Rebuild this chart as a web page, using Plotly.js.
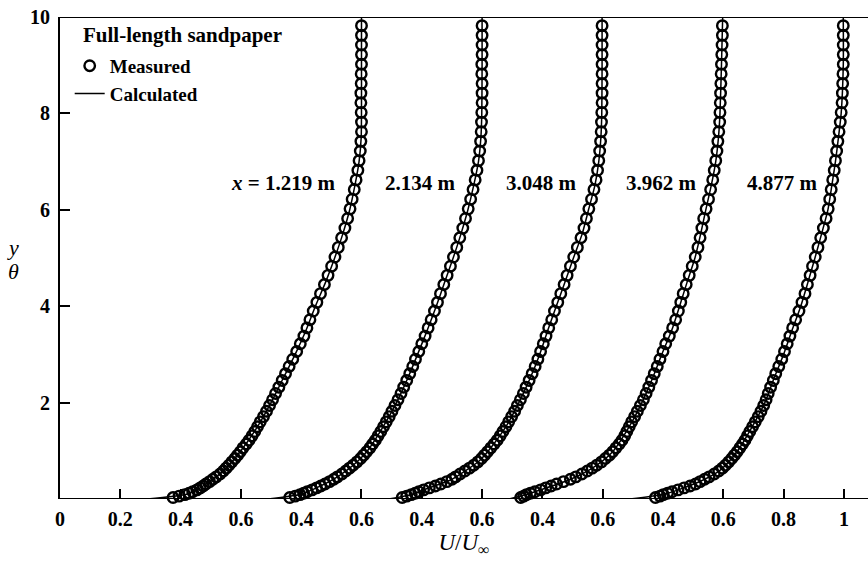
<!DOCTYPE html>
<html>
<head>
<meta charset="utf-8">
<script src="https://cdn.plot.ly/plotly-3.0.1.min.js"></script>
<style>html,body{margin:0;padding:0;background:#fff;}#chart{width:868px;height:561px;}</style>
</head>
<body>
<div id="chart"></div>
<script>
// Station labels and horizontal offset of each profile on the shared U/U∞ axis
const stations = ["<i>x</i> = 1.219 m", "2.134 m", "3.048 m", "3.962 m", "4.877 m"];
const offsets = [0, 0.4, 0.8, 1.2, 1.6];

// Measured y/θ positions (shared by all stations)
const yMeas = [0.03,0.06,0.09,0.12,0.15, 0.19,0.23,0.27,0.31, 0.36,0.41,0.46, 0.52,0.58,0.64,0.70,
  0.77,0.84,0.91,0.98, 1.06,1.14,1.22, 1.31,1.40, 1.50,1.60, 1.71,1.82, 1.94,2.06, 2.19,2.32,
  2.46,2.60, 2.75,2.90, 3.06,3.22,3.38, 3.55,3.72,3.90, 4.08,4.26, 4.45,4.64,4.83,
  5.02,5.22,5.42,5.62,5.82,
  6.02,6.22,6.42,6.62,6.82,7.02,7.22,7.42,7.62,7.82,
  8.02,8.22,8.42,8.62,8.82,9.02,9.22,9.42,9.62,9.82];

// Measured U/U∞ at each station
const meas1 = [0.375,0.395,0.414,0.428,0.44, 0.454,0.465,0.475,0.484, 0.496,0.507,0.518, 0.531,0.542,0.551,0.560,
  0.570,0.580,0.589,0.598, 0.607,0.618,0.627, 0.637,0.646, 0.655,0.664, 0.675,0.685, 0.695,0.705, 0.715,0.726,
  0.737,0.748, 0.760,0.772, 0.785,0.797,0.809, 0.819,0.829,0.840, 0.852,0.864, 0.877,0.889,0.901,
  0.912,0.923,0.934,0.945,0.954,
  0.962,0.969,0.976,0.982,0.988,0.992,0.996,0.998,1.0,1.0,
  0.999,0.998,0.998,0.999,0.999,1.0,1.0,1.0,1.0,1.0];
const meas2 = [0.362,0.38,0.396,0.408,0.42, 0.436,0.451,0.465,0.479, 0.494,0.508,0.52, 0.535,0.548,0.56,0.572,
  0.585,0.597,0.607,0.617, 0.628,0.637,0.646, 0.655,0.664, 0.673,0.682, 0.692,0.701, 0.711,0.721, 0.731,0.740,
  0.750,0.760, 0.770,0.779, 0.790,0.800,0.811, 0.821,0.831,0.842, 0.852,0.862, 0.873,0.884,0.895,
  0.905,0.916,0.926,0.936,0.945,
  0.954,0.962,0.970,0.977,0.983,0.988,0.992,0.995,0.997,0.998,
  0.999,1.0,1.0,1.0,0.999,0.999,1.0,1.0,1.0,1.0];
const meas3 = [0.335,0.35,0.365,0.378,0.39, 0.406,0.425,0.445,0.463, 0.483,0.5,0.512, 0.527,0.543,0.558,0.572,
  0.586,0.598,0.608,0.618, 0.629,0.64,0.65, 0.66,0.669, 0.679,0.688, 0.698,0.708, 0.717,0.727, 0.737,0.746,
  0.756,0.766, 0.776,0.785, 0.794,0.803,0.812, 0.821,0.831,0.84, 0.851,0.861, 0.872,0.882,0.893,
  0.904,0.916,0.928,0.938,0.946,
  0.954,0.963,0.971,0.978,0.983,0.987,0.99,0.993,0.995,0.996,
  0.997,0.998,0.998,0.998,0.998,0.998,0.998,0.998,0.998,0.998];
const meas4 = [0.328,0.338,0.347,0.36,0.375, 0.394,0.411,0.429,0.447, 0.47,0.493,0.511, 0.531,0.549,0.565,0.58,
  0.596,0.609,0.622,0.633, 0.644,0.655,0.664, 0.673,0.68, 0.688,0.696, 0.706,0.715, 0.725,0.735, 0.744,0.753,
  0.762,0.771, 0.781,0.79, 0.8,0.809,0.821, 0.832,0.842,0.851, 0.859,0.867, 0.877,0.887,0.897,
  0.907,0.916,0.923,0.929,0.935,
  0.943,0.951,0.958,0.965,0.97,0.975,0.979,0.982,0.985,0.988,
  0.989,0.99,0.991,0.992,0.993,0.994,0.995,0.996,0.997,0.997];
const meas5 = [0.375,0.39,0.401,0.415,0.43, 0.45,0.47,0.49,0.508, 0.523,0.538,0.553, 0.57,0.585,0.597,0.607,
  0.618,0.628,0.637,0.646, 0.655,0.664,0.672, 0.68,0.688, 0.697,0.706, 0.716,0.725, 0.734,0.742, 0.749,0.757,
  0.766,0.774, 0.784,0.794, 0.803,0.812,0.821, 0.83,0.84,0.851, 0.861,0.871, 0.879,0.888,0.896,
  0.905,0.914,0.923,0.932,0.941,
  0.948,0.953,0.958,0.963,0.968,0.972,0.976,0.98,0.984,0.988,
  0.991,0.994,0.995,0.996,0.997,0.998,0.998,0.998,0.998,0.998];

// Calculated profiles
const yCalc = [0,0.1,0.2,0.4,0.6,0.8,1,1.5,2,2.5,3,3.5,4,4.5,5,5.5,6,6.5,7,7.5,8,9,10];
const calc1 = [0.29,0.42,0.457,0.505,0.545,0.574,0.600,0.655,0.700,0.740,0.780,0.816,0.847,0.881,0.911,0.938,0.961,0.978,0.992,0.999,1.0,1.0,1.0];
const calc2 = [0.29,0.40,0.44,0.505,0.552,0.590,0.620,0.672,0.716,0.753,0.786,0.818,0.848,0.876,0.904,0.930,0.953,0.972,0.988,0.996,0.999,1.0,1.0];
const calc3 = [0.29,0.37,0.41,0.497,0.548,0.592,0.621,0.679,0.722,0.759,0.791,0.818,0.846,0.875,0.903,0.932,0.953,0.974,0.987,0.994,0.997,0.998,0.998];
const calc4 = [0.29,0.35,0.398,0.49,0.555,0.602,0.636,0.688,0.730,0.765,0.796,0.829,0.855,0.880,0.906,0.925,0.942,0.960,0.975,0.984,0.989,0.994,0.998];
const calc5 = [0.29,0.405,0.455,0.535,0.59,0.622,0.648,0.696,0.738,0.768,0.800,0.828,0.857,0.881,0.904,0.926,0.947,0.960,0.972,0.982,0.991,0.998,0.998];

// Tick labels: each profile's own U/U∞ scale, shifted by 0.4
const xTickVals = [0,0.2,0.4,0.6,0.8,1.0,1.2,1.4,1.6,1.8,2.0,2.2,2.4,2.6];
const xTickText = ["0","0.2","0.4","0.6","0.4","0.6","0.4","0.6","0.4","0.6","0.4","0.6","0.8","1"];
const yTickVals = [2,4,6,8,10];

const measured = [meas1, meas2, meas3, meas4, meas5];
const calculated = [calc1, calc2, calc3, calc4, calc5];

const FONT = "Liberation Serif, Times New Roman, serif";
const traces = [];
measured.forEach((u, k) => {
  traces.push({
    type: "scatter", mode: "markers", name: "Measured",
    legendgroup: "meas", showlegend: k === 0,
    x: u.map(v => v + offsets[k]), y: yMeas,
    marker: {symbol: "circle-open", size: 10.5, color: "#000", line: {width: 2.4, color: "#000"}},
    cliponaxis: false, hoverinfo: "skip"
  });
});
calculated.forEach((u, k) => {
  traces.push({
    type: "scatter", mode: "lines", name: "Calculated",
    legendgroup: "calc", showlegend: k === 0,
    x: u.map(v => v + offsets[k]), y: yCalc,
    line: {color: "#000", width: 1.5, shape: "spline", smoothing: 0.6},
    cliponaxis: false, hoverinfo: "skip"
  });
});

const XMAX = 2.68;
const gap = 0.016;
const shapes = [];
// broken baseline: one segment per profile scale
offsets.forEach((o, k) => {
  const x0 = k === 0 ? 0 : o + gap;
  const x1 = k === offsets.length - 1 ? XMAX : o + 0.6;
  shapes.push({type: "line", xref: "x", yref: "y", x0: x0, x1: x1, y0: 0, y1: 0,
    line: {color: "#000", width: 2}, layer: "below"});
});
// top frame line
shapes.push({type: "line", xref: "paper", yref: "y", x0: 0, x1: 1, y0: 10, y1: 10,
  line: {color: "#000", width: 2}});
// fraction bar of the y title
shapes.push({type: "line", xref: "x", yref: "paper", xsizemode: "pixel", xanchor: 0,
  x0: -54, x1: -41, y0: 0.5, y1: 0.5, line: {color: "#000", width: 1.5}});

const TXT = {family: FONT, size: 21, color: "#000", weight: "bold"};
const annotations = stations.map((s, k) => ({
  text: s, x: offsets[k] + 0.92, y: 6.56, xref: "x", yref: "y",
  xanchor: "right", yanchor: "middle", showarrow: false, font: TXT
}));
annotations.push({text: "Full-length sandpaper", xref: "paper", yref: "paper", x: 0, xshift: 21, y: 1, yshift: -18,
  xanchor: "left", yanchor: "middle", showarrow: false, font: TXT});
annotations.push({text: "<i>y</i>", xref: "paper", yref: "paper", x: 0, xshift: -47, y: 0.5, yshift: 11,
  xanchor: "center", yanchor: "middle", showarrow: false, font: {family: FONT, size: 22, color: "#000"}});
annotations.push({text: "<i>θ</i>", xref: "paper", yref: "paper", x: 0, xshift: -47, y: 0.5, yshift: -13,
  xanchor: "center", yanchor: "middle", showarrow: false, font: {family: FONT, size: 22, color: "#000"}});

const layout = {
  width: 868, height: 561,
  margin: {l: 60, r: 0, t: 17, b: 62},
  paper_bgcolor: "#fff", plot_bgcolor: "#fff",
  showlegend: true,
  legend: {x: 0.012, y: 0.938, xanchor: "left", yanchor: "top", bgcolor: "rgba(0,0,0,0)",
    font: {family: FONT, size: 19, color: "#000", weight: "bold"}, tracegroupgap: 0},
  xaxis: {range: [0, XMAX], showgrid: false, zeroline: false, showline: false,
    ticks: "inside", ticklen: 10, tickwidth: 2, tickcolor: "#000",
    tickmode: "array", tickvals: xTickVals, ticktext: xTickText,
    tickfont: {family: FONT, size: 20, color: "#000", weight: "bold"}, ticklabelstandoff: 6,
    title: {text: "<i>U</i>/<i>U</i><sub>∞</sub>", font: {family: FONT, size: 23, color: "#000"}, standoff: 4}},
  yaxis: {range: [0, 10], showgrid: false, zeroline: false, showline: true, linewidth: 2, linecolor: "#000",
    ticks: "inside", ticklen: 10, tickwidth: 2, tickcolor: "#000",
    tickmode: "array", tickvals: yTickVals,
    tickfont: {family: FONT, size: 20, color: "#000", weight: "bold"}, ticklabelstandoff: 4},
  shapes: shapes,
  annotations: annotations
};

Plotly.newPlot("chart", traces, layout, {staticPlot: true, displayModeBar: false});
</script>
</body>
</html>
